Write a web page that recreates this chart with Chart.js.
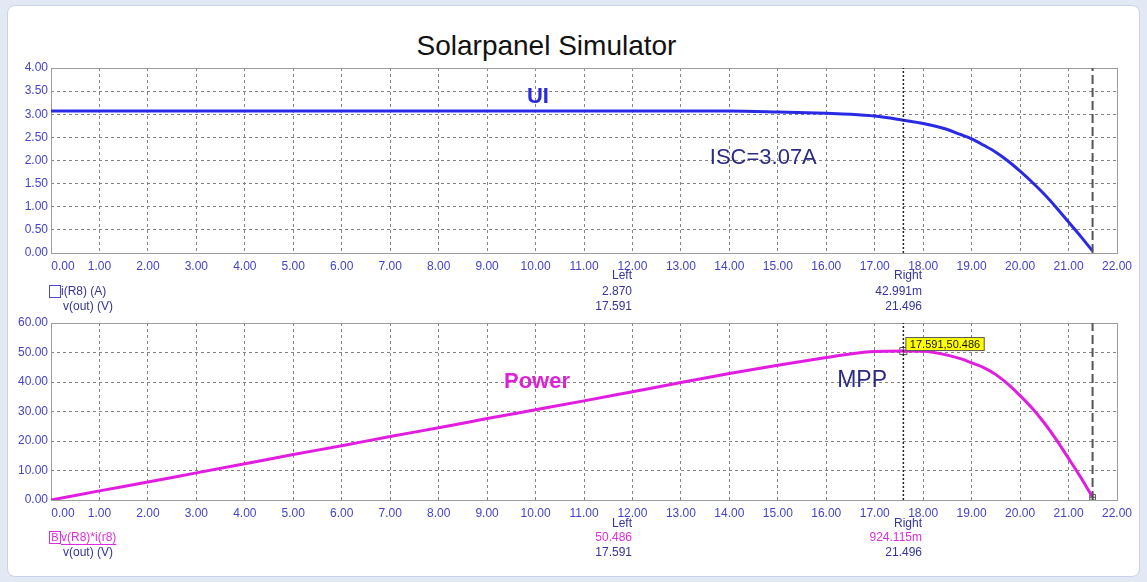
<!DOCTYPE html>
<html lang="en">
<head>
    <meta charset="UTF-8">
    <title>Solarpanel Simulator</title>
    <script src="https://cdn.jsdelivr.net/npm/chart.js"></script>
    <style>
        body {
            margin: 0;
            background-color: #e3e9f4;
            font-family: "Liberation Sans", Arial, sans-serif;
        }
        .frame {
            position: absolute;
            left: 7px;
            top: 5px;
            width: 1131px;
            height: 570px;
            background: white;
            border: 1px solid #c9d4e8;
            border-radius: 8px;
        }
        h1 {
            position: absolute;
            left: 0;
            top: 32px;
            width: 1093px;
            margin: 0;
            text-align: center;
            font-size: 28px;
            line-height: 28px;
            font-weight: normal;
            color: #111;
        }
        canvas {
            position: absolute;
            left: 0;
        }
        #uiChart { top: 0; }
        #powerChart { top: 312px; }
    </style>
</head>
<body>
    <div class="frame"></div>
    <h1>Solarpanel Simulator</h1>
    <canvas id="uiChart" width="1147" height="316"></canvas>
    <canvas id="powerChart" width="1147" height="270"></canvas>

    <script>
        // v(out) in volts
        const voltage = [0, 1, 2, 3, 4, 5, 6, 7, 8, 9, 10, 11, 12, 13, 14,
                         15, 16, 16.5, 17, 17.591, 18, 18.5, 18.75, 19, 19.25, 19.5, 19.75,
                         20, 20.25, 20.5, 20.75, 21, 21.25, 21.496];
        // i(R8) in amps
        const current = [3.07, 3.07, 3.07, 3.07, 3.07, 3.07, 3.07, 3.07, 3.07, 3.07, 3.07, 3.07, 3.07, 3.07, 3.07,
                         3.05, 3.02, 3.00, 2.96, 2.87, 2.80, 2.67, 2.57, 2.47, 2.33, 2.18, 1.99,
                         1.77, 1.53, 1.27, 0.98, 0.67, 0.36, 0.043];
        // v(R8)*i(r8) in watts
        const power = [0, 3.1, 6.1, 9.2, 12.3, 15.4, 18.4, 21.5, 24.5, 27.6, 30.6, 33.6, 36.7, 39.8, 42.9,
                       45.7, 48.3, 49.5, 50.3, 50.486, 50.4, 49.1, 48.0, 46.5, 44.9, 42.5, 39.3,
                       35.4, 31.1, 26.1, 20.4, 14.1, 7.7, 0.92];

        const cursorLeft = 17.591;
        const cursorRight = 21.496;
        const mpp = { x: 17.591, y: 50.486 };
        const endPoint = { x: 21.496, y: 0.92 };

        const topReadLeft = ['Left', '2.870', '17.591'];
        const topReadRight = ['Right', '42.991m', '21.496'];
        const botReadLeft = ['Left', '50.486', '17.591'];
        const botReadRight = ['Right', '924.115m', '21.496'];

        const FONT = "'Liberation Sans', Arial, sans-serif";
        const TICK_BLUE = '#4343cc';
        const NAVY = '#34349c';
        const MAGENTA = '#dd2edd';

        Chart.defaults.font.family = FONT;

        // draws free text placed at data coordinates
        const notesPlugin = {
            id: 'notes',
            afterDatasetsDraw(chart, args, opts) {
                const ctx = chart.ctx;
                const x = chart.scales.x, y = chart.scales.y;
                (opts.items || []).forEach(n => {
                    ctx.save();
                    ctx.font = n.font;
                    ctx.fillStyle = n.color;
                    ctx.textAlign = 'center';
                    ctx.textBaseline = 'middle';
                    ctx.fillText(n.text, x.getPixelForValue(n.x), y.getPixelForValue(n.y));
                    ctx.restore();
                });
                if (opts.tag) {
                    const t = opts.tag;
                    const px = x.getPixelForValue(t.x), py = y.getPixelForValue(t.y);
                    ctx.save();
                    ctx.font = '11px ' + FONT;
                    const w = ctx.measureText(t.text).width + 8;
                    ctx.fillStyle = '#ffff00';
                    ctx.strokeStyle = '#555';
                    ctx.lineWidth = 1;
                    ctx.fillRect(px + 2.5, py - 13.5, w, 13);
                    ctx.strokeRect(px + 2.5, py - 13.5, w, 13);
                    ctx.fillStyle = '#111';
                    ctx.textBaseline = 'middle';
                    ctx.fillText(t.text, px + 6.5, py - 6.5);
                    ctx.restore();
                }
            }
        };

        // plot frame
        const framePlugin = {
            id: 'frame',
            beforeDatasetsDraw(chart) {
                const { ctx, chartArea: a } = chart;
                ctx.save();
                ctx.strokeStyle = '#9c9c9c';
                ctx.lineWidth = 1;
                ctx.strokeRect(Math.round(a.left) + 0.5, Math.round(a.top) + 0.5,
                    Math.round(a.right - a.left), Math.round(a.bottom - a.top));
                ctx.restore();
            }
        };

        // cursor readout block below each plot
        const readoutPlugin = {
            id: 'readout',
            afterDraw(chart, args, o) {
                if (!o.rows) return;
                const ctx = chart.ctx;
                ctx.save();
                ctx.font = '12px ' + FONT;
                ctx.textBaseline = 'middle';
                const r1 = o.rows[1], r2 = o.rows[2];
                ctx.textAlign = 'right';
                o.left.forEach((t, i) => {
                    ctx.fillStyle = o.colors[i];
                    ctx.fillText(t, 632, o.rows[i]);
                });
                o.right.forEach((t, i) => {
                    ctx.fillStyle = o.colors[i];
                    ctx.fillText(t, 922, o.rows[i]);
                });
                ctx.textAlign = 'left';
                // legend box
                ctx.strokeStyle = o.boxColor;
                ctx.lineWidth = 1;
                ctx.strokeRect(49.5, r1 - 6.5, 11, 12);
                if (o.boxLetter) {
                    ctx.fillStyle = o.boxColor;
                    ctx.textAlign = 'center';
                    ctx.font = '11px ' + FONT;
                    ctx.fillText(o.boxLetter, 55, r1);
                    ctx.textAlign = 'left';
                    ctx.font = '12px ' + FONT;
                }
                ctx.fillStyle = o.colors[1];
                ctx.fillText(o.label1, 61, r1);
                if (o.underline) {
                    const w = ctx.measureText(o.label1).width;
                    ctx.fillRect(61, r1 + 6, w, 1);
                }
                ctx.fillStyle = NAVY;
                ctx.fillText(o.label2, 63, r2);
                ctx.restore();
            }
        };

        function xAxis() {
            return {
                type: 'linear',
                min: 0,
                max: 22,
                afterFit: s => { s.height = 22; },
                ticks: {
                    stepSize: 1,
                    color: TICK_BLUE,
                    font: { size: 12 },
                    padding: 6,
                    maxRotation: 0,
                    autoSkip: false,
                    // first label sits just right of the y axis
                    callback: v => (v === 0 ? '\u2002\u2002\u2002\u2002' : '') + Number(v).toFixed(2)
                },
                grid: { color: '#858585', lineWidth: 1, drawTicks: false },
                border: { display: false, dash: [3, 3] }
            };
        }

        function yAxis(max, step, cb) {
            return {
                min: 0,
                max: max,
                afterFit: s => { s.width = 51; },
                ticks: {
                    stepSize: step,
                    color: TICK_BLUE,
                    font: { size: 12 },
                    padding: 3,
                    callback: cb
                },
                grid: { color: '#858585', lineWidth: 1, drawTicks: false },
                border: { display: false, dash: [3, 3] }
            };
        }

        function cursorSets(yMax) {
            return [
                {
                    data: [{ x: cursorLeft, y: 0 }, { x: cursorLeft, y: yMax }],
                    borderColor: '#222',
                    borderWidth: 1.5,
                    borderDash: [2, 2],
                    pointRadius: 0
                },
                {
                    data: [{ x: cursorRight, y: 0 }, { x: cursorRight, y: yMax }],
                    borderColor: '#555',
                    borderWidth: 2,
                    borderDash: [9, 4],
                    pointRadius: 0
                }
            ];
        }

        const uiPoints = voltage.map((v, i) => ({ x: v, y: current[i] }));
        const powerPoints = voltage.map((v, i) => ({ x: v, y: power[i] }));

        new Chart(document.getElementById('uiChart'), {
            type: 'line',
            data: {
                datasets: [
                    ...cursorSets(4),
                    {
                        data: uiPoints,
                        borderColor: '#2a2ae6',
                        borderWidth: 3,
                        pointRadius: 0,
                        cubicInterpolationMode: 'monotone'
                    }
                ]
            },
            options: {
                responsive: false,
                animation: false,
                layout: { padding: { left: 0, right: 30, top: 68, bottom: 41 } },
                scales: {
                    x: xAxis(),
                    y: yAxis(4, 0.5, v => Number(v).toFixed(2))
                },
                plugins: {
                    legend: { display: false },
                    tooltip: { enabled: false },
                    notes: {
                        items: [
                            { text: 'UI', x: 10.05, y: 3.37, font: 'bold 22px ' + FONT, color: '#2a2ad8' },
                            { text: 'ISC=3.07A', x: 14.7, y: 2.05, font: '22px ' + FONT, color: '#2b2b86' }
                        ]
                    },
                    readout: {
                        rows: [276, 292, 307],
                        left: topReadLeft,
                        right: topReadRight,
                        colors: [NAVY, NAVY, NAVY],
                        boxColor: '#4a4ad0',
                        label1: 'i(R8) (A)',
                        label2: 'v(out) (V)'
                    }
                }
            },
            plugins: [framePlugin, notesPlugin, readoutPlugin]
        });

        new Chart(document.getElementById('powerChart'), {
            type: 'line',
            data: {
                datasets: [
                    ...cursorSets(60),
                    {
                        data: powerPoints,
                        borderColor: '#e11de1',
                        borderWidth: 3,
                        pointRadius: 0,
                        cubicInterpolationMode: 'monotone'
                    },
                    {
                        data: [mpp, endPoint],
                        showLine: false,
                        pointStyle: 'rect',
                        pointRadius: [5, 4],
                        pointBorderWidth: 1,
                        pointBorderColor: '#555',
                        pointBackgroundColor: 'rgba(0,0,0,0)'
                    },
                    {
                        data: [mpp, endPoint],
                        showLine: false,
                        pointStyle: 'cross',
                        pointRadius: [5, 3],
                        pointBorderWidth: 1,
                        pointBorderColor: '#555'
                    }
                ]
            },
            options: {
                responsive: false,
                animation: false,
                layout: { padding: { left: 0, right: 30, top: 11, bottom: 60 } },
                scales: {
                    x: xAxis(),
                    y: yAxis(60, 5, v => (v % 10 === 0 ? Number(v).toFixed(2) : ''))
                },
                plugins: {
                    legend: { display: false },
                    tooltip: { enabled: false },
                    notes: {
                        items: [
                            { text: 'Power', x: 10.03, y: 40, font: 'bold 22px ' + FONT, color: '#df22d6' },
                            { text: 'MPP', x: 16.74, y: 40.3, font: '23px ' + FONT, color: '#2b2b86' }
                        ],
                        tag: { x: mpp.x, y: mpp.y, text: '17.591,50.486' }
                    },
                    readout: {
                        rows: [212, 226, 241],
                        left: botReadLeft,
                        right: botReadRight,
                        colors: [NAVY, MAGENTA, NAVY],
                        boxColor: MAGENTA,
                        boxLetter: 'B',
                        underline: true,
                        label1: 'v(R8)*i(r8)',
                        label2: 'v(out) (V)'
                    }
                }
            },
            plugins: [framePlugin, notesPlugin, readoutPlugin]
        });
    </script>
</body>
</html>
